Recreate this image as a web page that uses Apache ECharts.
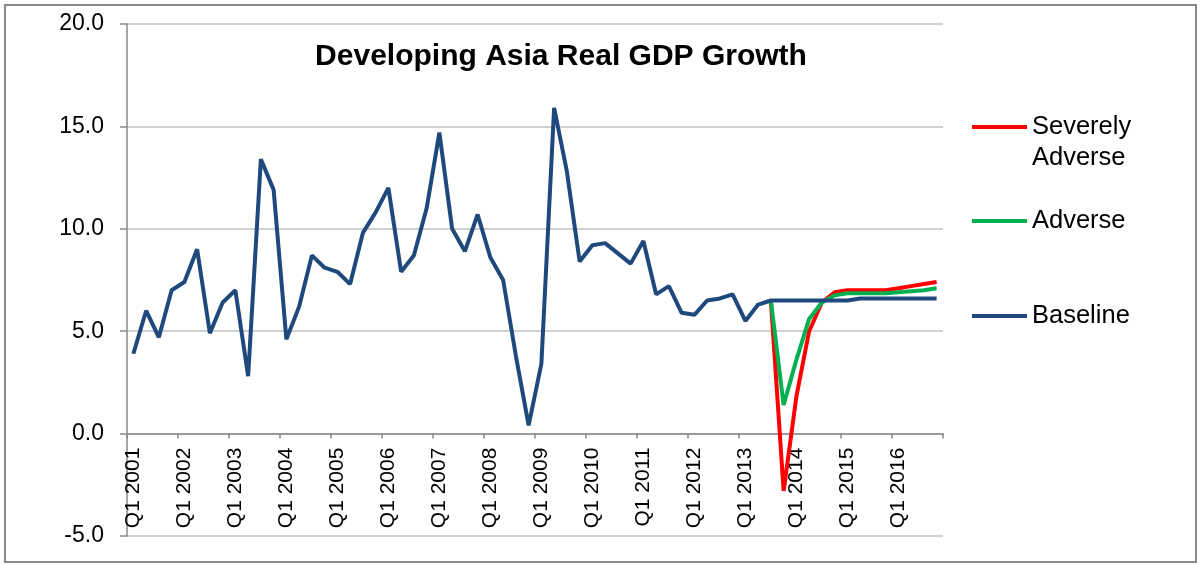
<!DOCTYPE html>
<html>
<head>
<meta charset="utf-8">
<script src="https://cdn.jsdelivr.net/npm/echarts@6/dist/echarts.min.js"></script>
<style>
html,body{margin:0;padding:0;background:#fff;}
#chart{width:1201px;height:565px;}
</style>
</head>
<body>
<div id="chart"></div>
<script>
// ---- data ----
const years = [2001,2002,2003,2004,2005,2006,2007,2008,2009,2010,2011,2012,2013,2014,2015,2016];
const quarters = ['Q1','Q2','Q3','Q4'];
const yTicks = [-5, 0, 5, 10, 15, 20];

const baseline = [
  3.9, 6.0, 4.7, 7.0,
  7.4, 9.0, 4.9, 6.4,
  7.0, 2.8, 13.4, 11.9,
  4.6, 6.2, 8.7, 8.1,
  7.9, 7.3, 9.8, 10.8,
  12.0, 7.9, 8.7, 11.0,
  14.7, 10.0, 8.9, 10.7,
  8.6, 7.5, 3.8, 0.4,
  3.4, 15.9, 12.8, 8.4,
  9.2, 9.3, 8.8, 8.3,
  9.4, 6.8, 7.2, 5.9,
  5.8, 6.5, 6.6, 6.8,
  5.5, 6.3, 6.5, 6.5,
  6.5, 6.5, 6.5, 6.5,
  6.5, 6.6, 6.6, 6.6,
  6.6, 6.6, 6.6, 6.6
];
// scenarios start at Q3 2013
const scenarioStart = 'Q3 2013';
const severelyAdverse = [6.5, -2.8, 1.8, 5.0, 6.4, 6.9, 7.0, 7.0, 7.0, 7.0, 7.1, 7.2, 7.3, 7.4];
const adverse = [6.5, 1.4, 3.6, 5.6, 6.4, 6.75, 6.85, 6.85, 6.85, 6.85, 6.9, 6.95, 7.0, 7.1];

// ---- build ----
const categories = [];
years.forEach(y => quarters.forEach(q => categories.push(q + ' ' + y)));
const startIdx = categories.indexOf(scenarioStart);
const pad = arr => categories.map((c, i) => (i >= startIdx && i - startIdx < arr.length) ? arr[i - startIdx] : null);

const FONT = "'Liberation Sans', Arial, sans-serif";
const COLORS = { sev: '#FF0000', adv: '#00B050', base: '#1F497D' };

const GRID_TOP = 24, GRID_H = 512;
const yMin = yTicks[0], yMax = yTicks[yTicks.length - 1];
// move the category axis up so that it sits on the zero line (labels follow it)
const zeroOffset = -GRID_H * (0 - yMin) / (yMax - yMin);

const chart = echarts.init(document.getElementById('chart'), null, { renderer: 'canvas' });

function legendFor(name, top, extra) {
  return Object.assign({
    orient: 'vertical',
    left: 972,
    top: top,
    padding: 0,
    icon: 'rect',
    itemWidth: 55,
    itemHeight: 4,
    selectedMode: false,
    data: [name],
    textStyle: { fontFamily: FONT, fontSize: 25.5, color: '#000', lineHeight: 31 }
  }, extra || {});
}

chart.setOption({
  animation: false,
  backgroundColor: '#fff',
  title: {
    text: 'Developing Asia Real GDP Growth',
    left: 561,
    top: 42,
    padding: 0,
    textAlign: 'center',
    textStyle: { fontFamily: FONT, fontSize: 30, fontWeight: 'bold', color: '#000' }
  },
  graphic: [{
    type: 'rect',
    shape: { x: 5, y: 5, width: 1191, height: 557 },
    style: { fill: 'none', stroke: '#898989', lineWidth: 2 },
    silent: true,
    z: -1
  }],
  legend: [
    legendFor('Severely Adverse', 80.5, {
      formatter: () => ' \nSeverely\nAdverse'
    }),
    legendFor('Adverse', 205.5),
    legendFor('Baseline', 300.5)
  ],
  grid: { left: 127, top: GRID_TOP, width: 816, height: GRID_H, containLabel: false, outerBoundsMode: 'none' },
  xAxis: {
    type: 'category',
    data: categories,
    boundaryGap: true,
    offset: zeroOffset,
    axisLine: { onZero: false, lineStyle: { color: '#888', width: 1.5 } },
    axisTick: { show: true, interval: 3, length: 5, lineStyle: { color: '#888', width: 1.5 } },
    axisLabel: { interval: 3, rotate: 90, margin: 14, fontFamily: FONT, fontSize: 21, color: '#000' },
    splitLine: { show: false }
  },
  yAxis: {
    type: 'value',
    min: yMin,
    max: yMax,
    interval: 5,
    axisLine: { show: true, lineStyle: { color: '#888', width: 1.5 } },
    axisTick: { show: true, length: 7, lineStyle: { color: '#888', width: 1.5 } },
    axisLabel: { margin: 23, fontFamily: FONT, fontSize: 23, color: '#000', formatter: v => v.toFixed(1) },
    splitLine: { show: true, lineStyle: { color: '#c0c0c0', width: 1.5 } }
  },
  series: [
    {
      name: 'Severely Adverse', type: 'line', data: pad(severelyAdverse),
      color: COLORS.sev, showSymbol: false, symbol: 'none',
      lineStyle: { color: COLORS.sev, width: 4 }, connectNulls: false
    },
    {
      name: 'Adverse', type: 'line', data: pad(adverse),
      color: COLORS.adv, showSymbol: false, symbol: 'none',
      lineStyle: { color: COLORS.adv, width: 4 }, connectNulls: false
    },
    {
      name: 'Baseline', type: 'line', data: baseline,
      color: COLORS.base, showSymbol: false, symbol: 'none',
      lineStyle: { color: COLORS.base, width: 4 }
    }
  ]
});
</script>
</body>
</html>
